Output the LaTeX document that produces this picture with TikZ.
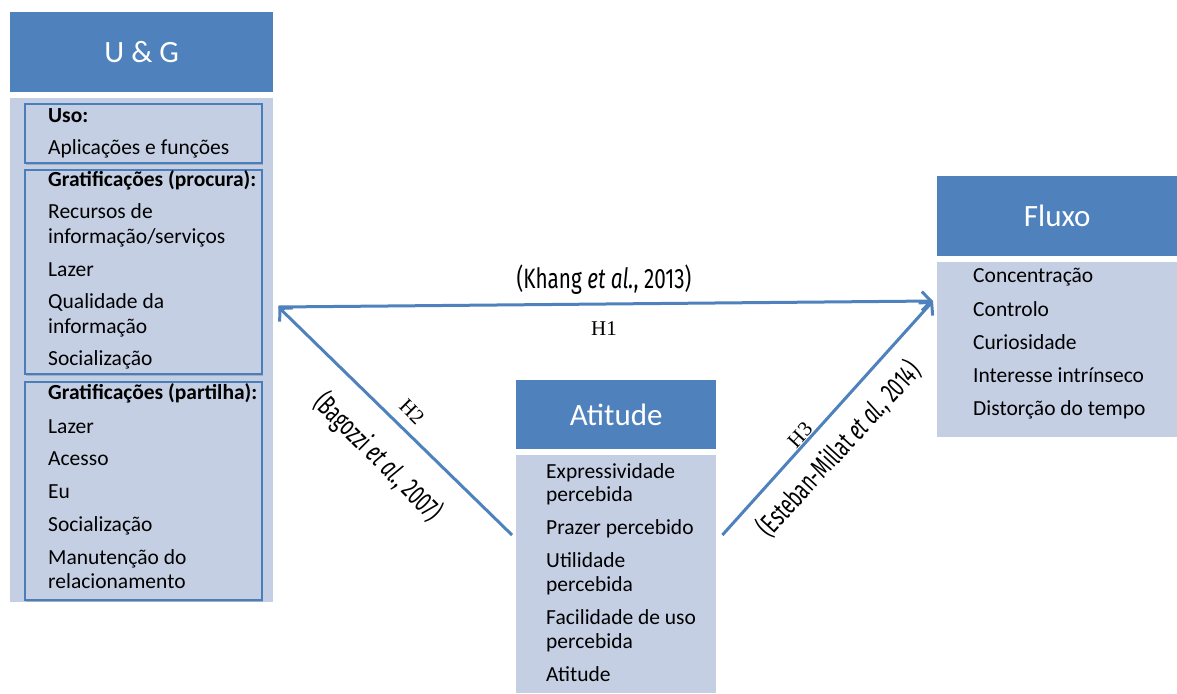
\documentclass[tikz,border=0pt]{standalone}
\usepackage{fontspec}
\setmainfont{Carlito}
\newfontfamily\condfont[FakeStretch=0.66]{Fira Sans}
\newfontfamily\condwide[FakeStretch=0.74]{Fira Sans}
\newfontfamily\serfont{Liberation Serif}
\usetikzlibrary{arrows.meta,shadows}

\definecolor{hdrblue}{HTML}{4F81BD}
\definecolor{panelblue}{HTML}{C5CFE3}
\definecolor{framblue}{HTML}{4A7EBB}

\begin{document}
\begin{tikzpicture}[x=1pt,y=-1pt,
  header/.style={fill=hdrblue, draw=none, text=white, inner sep=0pt,
    anchor=north west, font=\fontsize{31}{36}\selectfont},
  panel/.style={fill=panelblue, draw=none, inner sep=0pt, anchor=north west},
  group/.style={draw=framblue, fill=panelblue, line width=2.2pt, inner sep=0pt, anchor=north west,
    drop shadow={shadow xshift=1pt, shadow yshift=-2pt, opacity=0.25, fill=black!70}},
  item/.style={anchor=base west, inner sep=0pt, font=\fontsize{21.5}{24}\selectfont},
  link/.style={draw=hdrblue, line width=3pt,
    -{Straight Barb[length=9pt,width=19pt,line width=3pt]}},
  cite/.style={inner sep=0pt, font=\condfont\fontsize{28}{30}\selectfont},
  hyp/.style={inner sep=0pt, font=\serfont\fontsize{21}{23}\selectfont}
]
\useasboundingbox (0,0) rectangle (1177,693);

% ---- U & G ----
\node[header, minimum width=263pt, minimum height=80pt] (ugh) at (10,12) {U \& G};
\node[panel, minimum width=263pt, minimum height=504pt] (ugb) at (10,98) {};
\node[group, minimum width=237pt, minimum height=59pt] (uso) at (24,103) {};
\node[group, minimum width=237pt, minimum height=204pt] (proc) at (24,169) {};
\node[group, minimum width=237pt, minimum height=218pt] (part) at (24,381) {};

\node[item] (u1) at (48,122) {\textbf{Uso:}};
\node[item] (u2) at (48,154) {Aplicações e funções};
\node[item] (u3) at (48,186) {\textbf{Gratificações (procura):}};
\node[item] (u4) at (48,218) {Recursos de};
\node[item] (u5) at (48,243) {informação/serviços};
\node[item] (u6) at (48,276) {Lazer};
\node[item] (u7) at (48,308) {Qualidade da};
\node[item] (u8) at (48,333) {informação};
\node[item] (u9) at (48,365) {Socialização};
\node[item] (u10) at (48,399) {\textbf{Gratificações (partilha):}};
\node[item] (u11) at (48,433) {Lazer};
\node[item] (u12) at (48,465) {Acesso};
\node[item] (u13) at (48,498) {Eu};
\node[item] (u14) at (48,531) {Socialização};
\node[item] (u15) at (48,564) {Manutenção do};
\node[item] (u16) at (48,588) {relacionamento};

% ---- Atitude ----
\node[header, minimum width=200pt, minimum height=69pt] (ath) at (516,380) {Atitude};
\node[panel, minimum width=200pt, minimum height=238pt] (atb) at (516,455) {};
\node[item] (a1) at (546,478) {Expressividade};
\node[item] (a2) at (546,501) {percebida};
\node[item] (a3) at (546,534) {Prazer percebido};
\node[item] (a4) at (546,567) {Utilidade};
\node[item] (a5) at (546,591) {percebida};
\node[item] (a6) at (546,624) {Facilidade de uso};
\node[item] (a7) at (546,648) {percebida};
\node[item] (a8) at (546,681) {Atitude};

% ---- Fluxo ----
\node[header, minimum width=240pt, minimum height=80pt] (flh) at (937,176) {Fluxo};
\node[panel, minimum width=240pt, minimum height=175pt] (flb) at (937,262) {};
\node[item] (f1) at (973,282) {Concentração};
\node[item] (f2) at (973,316) {Controlo};
\node[item] (f3) at (973,349) {Curiosidade};
\node[item] (f4) at (973,382) {Interesse intrínseco};
\node[item] (f5) at (973,415) {Distorção do tempo};

% ---- connector ends ----
\coordinate (ugport) at ([xshift=5pt]ugb.east |- 0,307);
\coordinate (flport) at ([xshift=-4pt]flb.west |- 0,301);
\coordinate (atleft) at ([xshift=-4pt]atb.west |- 0,535);
\coordinate (atright) at ([xshift=6pt]atb.east |- 0,535);

\draw[link] (ugport) -- (flport);
\draw[link] (atleft) -- (ugport);
\draw[link] (atright) -- (flport);

% ---- labels ----
\node[cite, font=\condwide\fontsize{28}{30}\selectfont] (c1) at (604,280) {(Khang \textit{et al.}, 2013)};
\node[hyp] (h1) at (604,329) {H1};
\node[cite, rotate=-45] (c2) at (378,457) {(Bagozzi \textit{et al.}, 2007)};
\node[hyp, rotate=-45] (h2) at (412,412) {H2};
\node[cite, rotate=47.5] (c3) at (839,449) {(Esteban-Millat \textit{et al.}, 2014)};
\node[hyp, rotate=47.5] (h3) at (800,435) {H3};
\end{tikzpicture}
\end{document}
